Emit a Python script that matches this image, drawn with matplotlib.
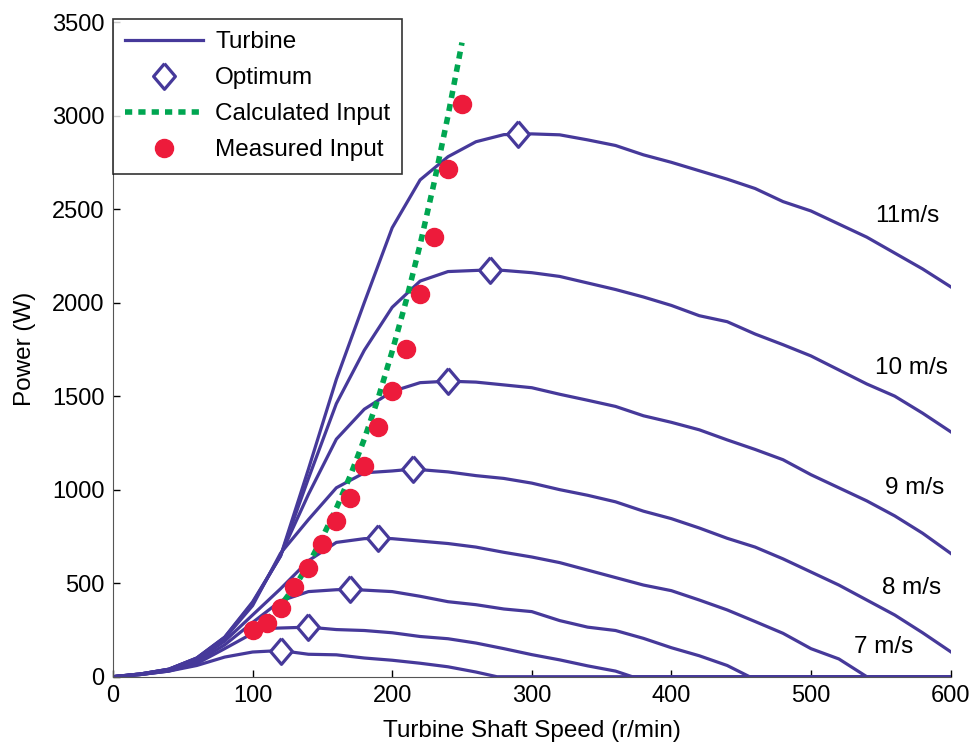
import numpy as np
import matplotlib
matplotlib.use('Agg')
import matplotlib.pyplot as plt

plt.rcParams['font.family'] = ['Liberation Sans', 'DejaVu Sans']
plt.rcParams['font.size'] = 17

# turbine power curves, one per wind speed (x in r/min, P in W)
x_a = [0, 20, 40, 60, 80, 100, 120, 140, 160, 180, 200, 220, 240, 260, 280, 290, 300, 320, 340, 360, 380, 400,
       420, 440, 460, 480, 500, 520, 540, 560, 580, 600]
p_a = [0, 15, 40, 100, 212, 400, 645, 1110, 1590, 2000, 2400, 2656, 2780, 2860, 2898, 2900, 2902, 2897, 2870,
       2840, 2790, 2750, 2705, 2660, 2610, 2540, 2490, 2420, 2350, 2265, 2180, 2085]

x_b = [0, 20, 40, 60, 80, 100, 120, 140, 160, 180, 200, 220, 240, 260, 270, 280, 300, 320, 340, 360, 380, 400,
       420, 440, 460, 480, 500, 520, 540, 560, 580, 600]
p_b = [0, 15, 40, 100, 210, 395, 645, 1060, 1460, 1745, 1975, 2115, 2166, 2172, 2175, 2172, 2160, 2140, 2105,
       2070, 2030, 1985, 1930, 1898, 1832, 1775, 1715, 1640, 1565, 1500, 1409, 1310]

x_c = [0, 20, 40, 60, 80, 100, 120, 140, 160, 180, 200, 220, 240, 260, 280, 300, 320, 340, 360, 380, 400, 420,
       440, 460, 480, 500, 520, 540, 560, 580, 600]
p_c = [0, 15, 40, 98, 208, 390, 650, 975, 1270, 1430, 1525, 1572, 1580, 1575, 1560, 1545, 1510, 1478, 1445,
       1395, 1360, 1320, 1266, 1215, 1160, 1080, 1010, 940, 860, 767, 660]

x_d = [0, 20, 40, 60, 80, 100, 120, 140, 160, 180, 200, 215, 240, 260, 280, 300, 320, 340, 360, 380, 400, 420,
       440, 460, 480, 500, 520, 540, 560, 580, 600]
p_d = [0, 15, 38, 95, 205, 380, 660, 840, 1010, 1090, 1100, 1110, 1095, 1075, 1060, 1035, 1000, 970, 935, 885,
       845, 795, 740, 693, 630, 560, 490, 410, 330, 235, 134]

x_e = [0, 20, 40, 60, 80, 100, 120, 140, 160, 180, 190, 200, 220, 240, 260, 280, 300, 320, 340, 360, 380, 400,
       420, 440, 460, 480, 500, 520, 540, 600]
p_e = [0, 12, 35, 90, 190, 330, 470, 620, 718, 738, 740, 738, 725, 712, 693, 665, 640, 610, 570, 530, 490, 460,
       410, 357, 295, 232, 150, 95, 0, 0]

x_f = [0, 20, 40, 60, 80, 100, 120, 140, 160, 170, 180, 200, 220, 240, 260, 280, 300, 320, 340, 360, 380, 400,
       420, 440, 456, 600]
p_f = [0, 12, 32, 80, 170, 290, 405, 455, 465, 467, 463, 455, 430, 401, 385, 362, 348, 300, 265, 247, 205, 155,
       112, 60, 0, 0]

x_g = [0, 20, 40, 60, 80, 100, 110, 140, 160, 180, 200, 220, 240, 260, 280, 300, 320, 340, 360, 372, 600]
p_g = [0, 12, 30, 70, 150, 232, 258, 265, 252, 247, 235, 215, 203, 180, 150, 118, 90, 58, 30, 0, 0]

x_h = [0, 20, 40, 60, 80, 100, 120, 140, 160, 180, 200, 220, 240, 260, 275, 600]
p_h = [0, 12, 30, 60, 105, 132, 140, 120, 117, 100, 88, 72, 53, 25, 0, 0]

curves_x = [x_a, x_b, x_c, x_d, x_e, x_f, x_g, x_h]
curves_p = [p_a, p_b, p_c, p_d, p_e, p_f, p_g, p_h]

# optimum points
opt_x = [290, 270, 240, 215, 190, 170, 140, 120]
opt_p = [2900, 2175, 1580, 1110, 740, 467, 265, 140]

# calculated input
calc_x = [110, 120, 130, 140, 150, 160, 170, 180, 190, 200, 210, 220, 230, 240, 250]
calc_p = [300, 380, 480, 600, 745, 900, 1075, 1270, 1490, 1740, 2010, 2310, 2640, 3000, 3390]

# measured input
meas_x = [100, 110, 120, 130, 140, 150, 160, 170, 180, 190, 200, 210, 220, 230, 240, 250]
meas_p = [250, 289, 369, 481, 583, 708, 833, 954, 1127, 1334, 1528, 1752, 2046, 2353, 2713, 3061]

labels = ['11m/s', '10 m/s', '9 m/s', '8 m/s', '7 m/s']
label_x = [569, 572, 574, 572, 552]
label_p = [2464, 1650, 1009, 474, 158]

purple = '#46399a'
green = '#00a651'
red = '#ed1b3b'

fig = plt.figure(figsize=(9.76, 7.47), dpi=100)
ax = fig.add_axes([0.1158, 0.0941, 0.8581, 0.8764])

for i, (xs, ps) in enumerate(zip(curves_x, curves_p)):
    ax.plot(xs, ps, color=purple, lw=2.3, label='Turbine' if i == 0 else None, zorder=2)

diamond = [(0, 1), (0.85, 0), (0, -1), (-0.85, 0), (0, 1)]
ax.plot(opt_x, opt_p, ls='none', marker=diamond, ms=18.5, mfc='white', mec=purple, mew=2.3,
        label='Optimum', zorder=4)
ax.plot(calc_x, calc_p, color=green, lw=4, dashes=(1.3, 1.1), dash_capstyle='butt',
        label='Calculated Input', zorder=3)
ax.plot(meas_x, meas_p, ls='none', marker='o', ms=13, color=red, mec=red,
        label='Measured Input', zorder=5)

for t, lx, lp in zip(labels, label_x, label_p):
    ax.text(lx, lp, t, ha='center', va='center', fontsize=17.5)

ax.set_xlim(0, 600)
ax.set_ylim(0, 3500)
ax.set_xticks(np.arange(0, 601, 100))
ax.set_yticks(np.arange(0, 3501, 500))
ax.tick_params(direction='in', length=5, width=1, pad=6)
ax.spines['top'].set_visible(False)
ax.spines['right'].set_visible(False)
for s in ['left', 'bottom']:
    ax.spines[s].set_color('#555555')
ax.set_xlabel('Turbine Shaft Speed (r/min)', labelpad=9, fontsize=17.5)
ax.set_ylabel('Power (W)', labelpad=12, fontsize=17.5)

leg = ax.legend(loc='upper left', bbox_to_anchor=(0.1158, 0.9746), bbox_transform=fig.transFigure,
                frameon=True, fancybox=False, edgecolor='black', handlelength=3.2,
                handletextpad=0.5, labelspacing=0.58, borderpad=0.5, borderaxespad=0,
                prop={'size': 17.5})
leg.get_frame().set_linewidth(1.2)

fig.savefig('out.png', dpi=100)
